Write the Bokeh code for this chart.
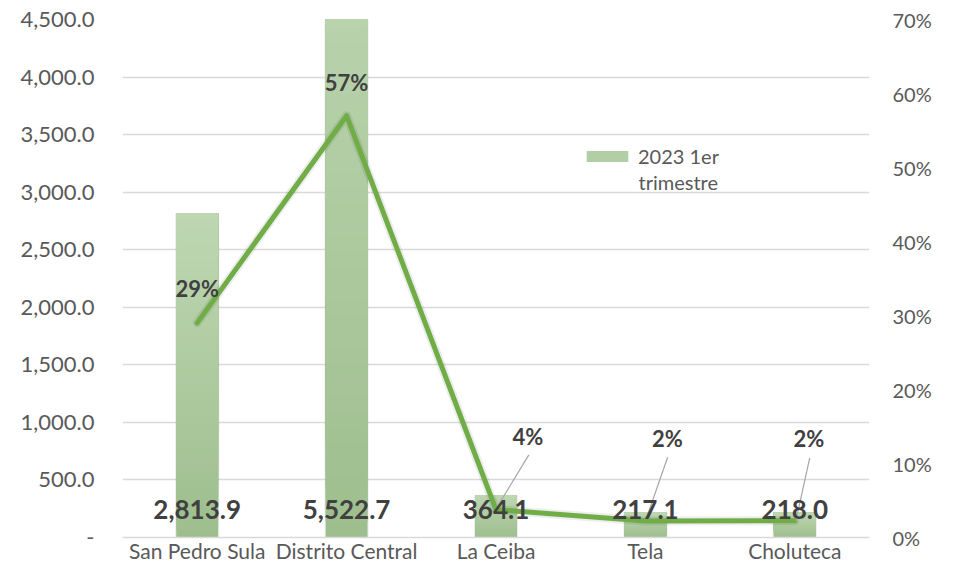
from bokeh.plotting import figure
from bokeh.models import (Range1d, FactorRange, LinearAxis, FixedTicker, NumeralTickFormatter,
                          Legend, LegendItem, ColumnDataSource, Label)
from bokeh.core.properties import value
from bokeh.embed import file_html
from bokeh.resources import INLINE

# ---------------- data ----------------
cities = ["San Pedro Sula", "Distrito Central", "La Ceiba", "Tela", "Choluteca"]
amounts = [2813.9, 5522.7, 364.1, 217.1, 218.0]
shares = [0.290, 0.570, 0.0376, 0.0224, 0.0225]
share_labels = ["29%", "57%", "4%", "2%", "2%"]
amount_labels = ["2,813.9", "5,522.7", "364.1", "217.1", "218.0"]
series_name_lines = ["2023 1er", "trimestre"]
left_ticks = [0, 500, 1000, 1500, 2000, 2500, 3000, 3500, 4000, 4500]
right_ticks = [0.0, 0.1, 0.2, 0.3, 0.4, 0.5, 0.6, 0.7]

# ---------------- styles ----------------
FONT = "Lato"
TXT = "#595959"
DARK = "#404040"
GRID = "#d9d9d9"
LINE = "#70ad47"
BAR_TOP = (190, 215, 178)
BAR_BOT = (158, 190, 142)
BAR_W = 0.28
# label offsets (pixels) for share labels
lab_dx = [0, 0, 32, 22, 14]
lab_dy = [-34, -33, -73, -82, -82]
# leader lines: index, top (dx cat, dy share), bottom (dx cat, dy share)
leaders = [(2, 0.22, 0.074, 0.017, 0.0067),
           (3, 0.149, 0.086, 0.004, 0.002),
           (4, 0.10, 0.085, 0.007, 0.0)]
# legend placement (frame-relative px) and second line position (axis units)
LEG_LOC = (459, 369)
LEG_LINE2 = (3.454, 3084)

p = figure(width=946, height=565, x_range=FactorRange(factors=cities, range_padding=0),
           y_range=Range1d(0, 4500), output_backend="svg", toolbar_location=None,
           min_border_left=122, min_border_right=77, min_border_top=19, min_border_bottom=26)
p.outline_line_color = None
p.background_fill_color = "white"
p.border_fill_color = "white"

p.extra_y_ranges = {"pct": Range1d(0, 0.7)}

# grid
p.xgrid.grid_line_color = None
p.ygrid.ticker = FixedTicker(ticks=left_ticks)
p.ygrid.grid_line_color = GRID
p.ygrid.grid_line_width = 1.5

# left axis
ly = p.yaxis[0]
ly.ticker = FixedTicker(ticks=left_ticks)
ly.formatter = NumeralTickFormatter(format="0,0.0")
ly.major_label_overrides = {0: "-"}
ly.axis_line_color = None
ly.major_tick_line_color = None
ly.minor_tick_line_color = None
ly.major_tick_out = 0
ly.major_tick_in = 0
ly.minor_tick_out = 0
ly.major_label_standoff = 28
ly.major_label_text_font = FONT
ly.major_label_text_font_size = "22px"
ly.major_label_text_color = TXT

# right axis
ry = LinearAxis(y_range_name="pct", ticker=FixedTicker(ticks=right_ticks),
                formatter=NumeralTickFormatter(format="0%"))
ry.axis_line_color = None
ry.major_tick_line_color = None
ry.minor_tick_line_color = None
ry.major_tick_out = 0
ry.major_tick_in = 0
ry.minor_tick_out = 0
ry.major_label_standoff = 23
ry.major_label_text_font = FONT
ry.major_label_text_font_size = "20px"
ry.major_label_text_color = TXT
p.add_layout(ry, "right")

# x axis
xa = p.xaxis[0]
xa.axis_line_color = GRID
xa.axis_line_width = 1.5
xa.major_tick_line_color = None
xa.minor_tick_line_color = None
xa.major_tick_out = 0
xa.major_tick_in = 0
xa.minor_tick_out = 0
xa.major_label_standoff = 0
xa.major_label_text_font = FONT
xa.major_label_text_font_size = "21px"
xa.major_label_text_color = TXT

# bars: soft shadow + vertical gradient drawn as stacked layers
p.vbar(x=cities, top=amounts, width=BAR_W + 0.016, fill_color="#000000", fill_alpha=0.07,
       line_color=None)

N = 40
gx, gb, gt, gc = [], [], [], []
for c, a in zip(cities, amounts):
    for k in range(N):
        f = (k + 0.5) / N
        col = tuple(int(round(BAR_BOT[i] + (BAR_TOP[i] - BAR_BOT[i]) * f)) for i in range(3))
        gx.append(c)
        gb.append(a * k / N)
        gt.append(a)
        gc.append("#%02x%02x%02x" % col)
p.vbar(x="x", bottom="b", top="t", width=BAR_W, fill_color="c", line_color=None,
       source=ColumnDataSource(dict(x=gx, b=gb, t=gt, c=gc)))

# legend proxy renderer (zero-height bar, only used for the legend swatch)
legend_r = p.vbar(x=[cities[0]], bottom=[0], top=[0], width=BAR_W, fill_color="#b1cea4",
                  line_color=None)

# share line (shadow + line)
p.line(x=cities, y=shares, y_range_name="pct", line_color="#000000", line_alpha=0.07,
       line_width=9, line_join="round", line_cap="round")
p.line(x=cities, y=shares, y_range_name="pct", line_color=LINE, line_width=5,
       line_join="round", line_cap="round")

# leader lines
lx0, ly0, lx1, ly1 = [], [], [], []
for i, tdx, tdy, bdx, bdy in leaders:
    lx0.append(i + 0.5 + tdx)
    ly0.append(shares[i] + tdy)
    lx1.append(i + 0.5 + bdx)
    ly1.append(shares[i] + bdy)
p.segment(x0=lx0, y0=ly0, x1=lx1, y1=ly1, y_range_name="pct", line_color="#a6a6a6",
          line_width=1.2)

# amount labels
p.text(x=cities, y=[0] * len(cities), text=amount_labels, y_offset=-28,
       text_font=value(FONT), text_font_style="bold", text_font_size="26px",
       text_color=DARK, text_align="center", text_baseline="middle")

# share labels
p.text(x=cities, y=shares, text=share_labels, y_range_name="pct", x_offset=lab_dx,
       y_offset=lab_dy, text_font=value(FONT), text_font_style="bold",
       text_font_size="22px", text_color=DARK, text_align="center", text_baseline="middle")

legend = Legend(items=[LegendItem(label=series_name_lines[0], renderers=[legend_r])],
                location=LEG_LOC, orientation="vertical")
legend.background_fill_alpha = 0
legend.border_line_color = None
legend.padding = 0
legend.margin = 0
legend.glyph_width = 52
legend.glyph_height = 14
legend.label_standoff = 5
legend.label_text_font = FONT
legend.label_text_font_size = "20px"
legend.label_text_color = TXT
p.add_layout(legend, "center")

p.add_layout(Label(x=LEG_LINE2[0], y=LEG_LINE2[1], text=series_name_lines[1],
                   text_font=FONT, text_font_size="20px", text_color=TXT,
                   text_baseline="middle", text_align="left"))

open("out.html", "w").write(file_html(p, INLINE))
